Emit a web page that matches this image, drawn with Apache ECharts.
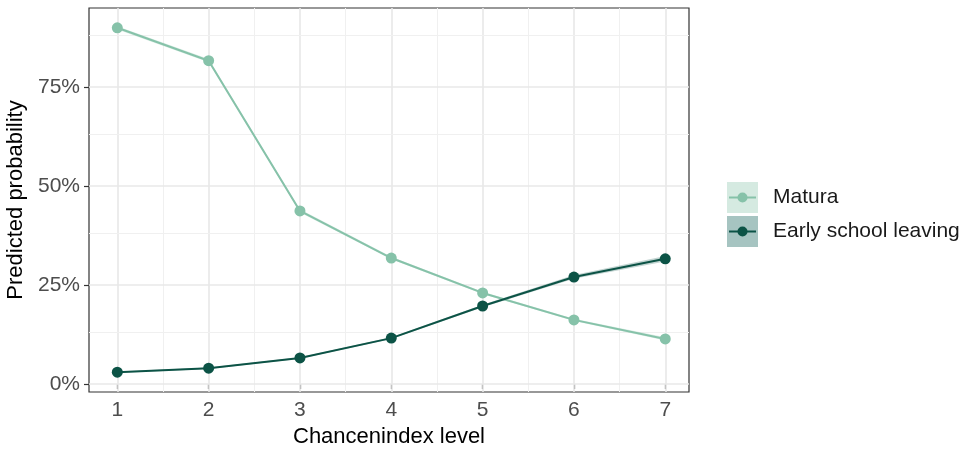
<!DOCTYPE html>
<html><head><meta charset="utf-8">
<script src="https://cdn.jsdelivr.net/npm/echarts@6/dist/echarts.min.js"></script>
<style>html,body{margin:0;padding:0;background:#fff}#c{width:967px;height:450px}</style>
</head><body><div id="c"></div>
<script>
const levels = [1, 2, 3, 4, 5, 6, 7];
const maturaProb = [0.899, 0.816, 0.437, 0.318, 0.230, 0.162, 0.114];
const maturaLow  = [0.895, 0.812, 0.433, 0.315, 0.227, 0.159, 0.110];
const maturaHigh = [0.903, 0.820, 0.441, 0.321, 0.233, 0.165, 0.118];
const eslProb = [0.030, 0.040, 0.066, 0.116, 0.197, 0.270, 0.316];
const eslLow  = [0.028, 0.038, 0.064, 0.114, 0.194, 0.266, 0.309];
const eslHigh = [0.032, 0.042, 0.068, 0.118, 0.200, 0.275, 0.323];
const yTicks = [0, 0.25, 0.5, 0.75];
const yMinor = [0.125, 0.375, 0.625, 0.875];
const xMinor = [1.5, 2.5, 3.5, 4.5, 5.5, 6.5];
const seriesNames = ['Matura', 'Early school leaving'];

const matCol = '#86c2a9', eslCol = '#0c5346';
const matFill = 'rgba(134,194,169,0.3)', eslFill = 'rgba(12,83,70,0.25)';
const fontFam = '"Liberation Sans", Arial, sans-serif';

function ribbon(low, high, fill) {
  return {
    type: 'custom', z: 6, silent: true,
    data: levels.map((x, i) => [x, low[i], high[i]]),
    renderItem: function (params, api) {
      if (params.dataIndex !== 0) return;
      const pts = [];
      for (let i = 0; i < levels.length; i++) pts.push(api.coord([levels[i], low[i]]));
      for (let i = levels.length - 1; i >= 0; i--) pts.push(api.coord([levels[i], high[i]]));
      return { type: 'polygon', shape: { points: pts }, style: { fill: fill } };
    }
  };
}

const major = { type: 'solid', width: 1.6, color: '#e8e8e8' };
const minor = { type: 'solid', width: 1, color: '#f0f0f0' };
const gridLines = [];
levels.forEach(v => gridLines.push({ xAxis: v, lineStyle: major }));
xMinor.forEach(v => gridLines.push({ xAxis: v, lineStyle: minor }));
yTicks.forEach(v => gridLines.push({ yAxis: v, lineStyle: major }));
yMinor.forEach(v => gridLines.push({ yAxis: v, lineStyle: minor }));

const chart = echarts.init(document.getElementById('c'), null, { renderer: 'canvas' });
chart.setOption({
  animation: false,
  backgroundColor: '#fff',
  grid: { left: 89, top: 8, width: 600, height: 384, containLabel: false, outerBoundsMode: 'none',
    show: true, borderColor: '#333', borderWidth: 1.2, backgroundColor: 'transparent' },
  xAxis: {
    type: 'value', min: 0.69, max: 7.26,
    name: 'Chancenindex level', nameLocation: 'middle', nameGap: 34,
    nameTextStyle: { fontFamily: fontFam, fontSize: 22, color: '#000' },
    axisLine: { show: false },
    axisTick: { show: true, customValues: levels, length: 5, lineStyle: { color: '#333', width: 1.2 } },
    axisLabel: { customValues: levels, fontFamily: fontFam, fontSize: 21, color: '#4d4d4d', margin: 8 },
    splitLine: { show: false }
  },
  yAxis: {
    type: 'value', min: -0.02, max: 0.949,
    name: 'Predicted probability', nameLocation: 'middle', nameGap: 60, nameRotate: 90,
    nameTextStyle: { fontFamily: fontFam, fontSize: 22, color: '#000' },
    axisLine: { show: false },
    axisTick: { show: true, customValues: yTicks, length: 5, lineStyle: { color: '#333', width: 1.2 } },
    axisLabel: { customValues: yTicks, fontFamily: fontFam, fontSize: 21, color: '#4d4d4d', margin: 9,
      formatter: v => Math.round(v * 100) + '%' },
    splitLine: { show: false }
  },
  series: [
    { type: 'line', data: [], z: 1, silent: true,
      markLine: { silent: true, z: 1, symbol: 'none', label: { show: false }, animation: false, data: gridLines } },
    ribbon(maturaLow, maturaHigh, matFill),
    ribbon(eslLow, eslHigh, eslFill),
    { name: seriesNames[0], type: 'line', z: 10, data: levels.map((x, i) => [x, maturaProb[i]]),
      symbol: 'circle', symbolSize: 11, lineStyle: { color: matCol, width: 2 }, itemStyle: { color: matCol, borderWidth: 0 } },
    { name: seriesNames[1], type: 'line', z: 11, data: levels.map((x, i) => [x, eslProb[i]]),
      symbol: 'circle', symbolSize: 11, lineStyle: { color: eslCol, width: 2 }, itemStyle: { color: eslCol, borderWidth: 0 } }
  ],
  graphic: [
    { type: 'rect', shape: { x: 727, y: 182, width: 31, height: 31 }, style: { fill: '#d5eae1' } },
    { type: 'line', shape: { x1: 729, y1: 197.5, x2: 756, y2: 197.5 }, style: { stroke: matCol, lineWidth: 2 } },
    { type: 'circle', shape: { cx: 742.5, cy: 197.5, r: 5 }, style: { fill: matCol } },
    { type: 'text', x: 773, y: 197.5, style: { text: seriesNames[0], fontFamily: fontFam, fontSize: 21, fill: '#1a1a1a', verticalAlign: 'middle' } },
    { type: 'rect', shape: { x: 727, y: 216, width: 31, height: 31 }, style: { fill: '#a6c4c1' } },
    { type: 'line', shape: { x1: 729, y1: 231.5, x2: 756, y2: 231.5 }, style: { stroke: eslCol, lineWidth: 2 } },
    { type: 'circle', shape: { cx: 742.5, cy: 231.5, r: 5 }, style: { fill: eslCol } },
    { type: 'text', x: 773, y: 231.5, style: { text: seriesNames[1], fontFamily: fontFam, fontSize: 21, fill: '#1a1a1a', verticalAlign: 'middle' } }
  ]
});
</script></body></html>
